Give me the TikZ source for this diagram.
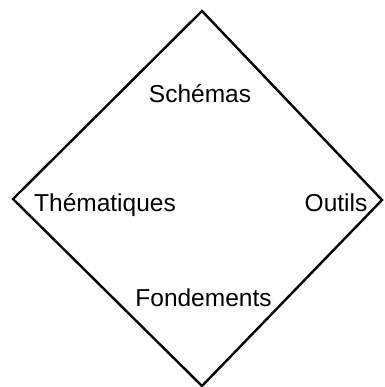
\documentclass[tikz,border=0pt]{standalone}
\usepackage{fontspec}
\setmainfont{Liberation Sans}
\begin{document}
\begin{tikzpicture}[x=1pt,y=-1pt,
  lbl/.style={anchor=base,inner sep=0pt,font=\fontsize{24.5}{28}\selectfont},
  edge/.style={draw=black,line width=2.4pt,line join=miter}]
\useasboundingbox (0,0) rectangle (384,387);
\coordinate (T) at (202,11);
\coordinate (L) at (13,199);
\coordinate (R) at (382,200);
\coordinate (B) at (202,386);
\draw[edge] (T) -- (R) -- (B) -- (L) -- cycle;
\node[lbl] (s) at (200,103) {Schémas};
\node[lbl] (t) at (105,211) {Thématiques};
\node[lbl] (o) at (336,211) {Outils};
\node[lbl] (f) at (203.5,306) {Fondements};
\end{tikzpicture}
\end{document}
